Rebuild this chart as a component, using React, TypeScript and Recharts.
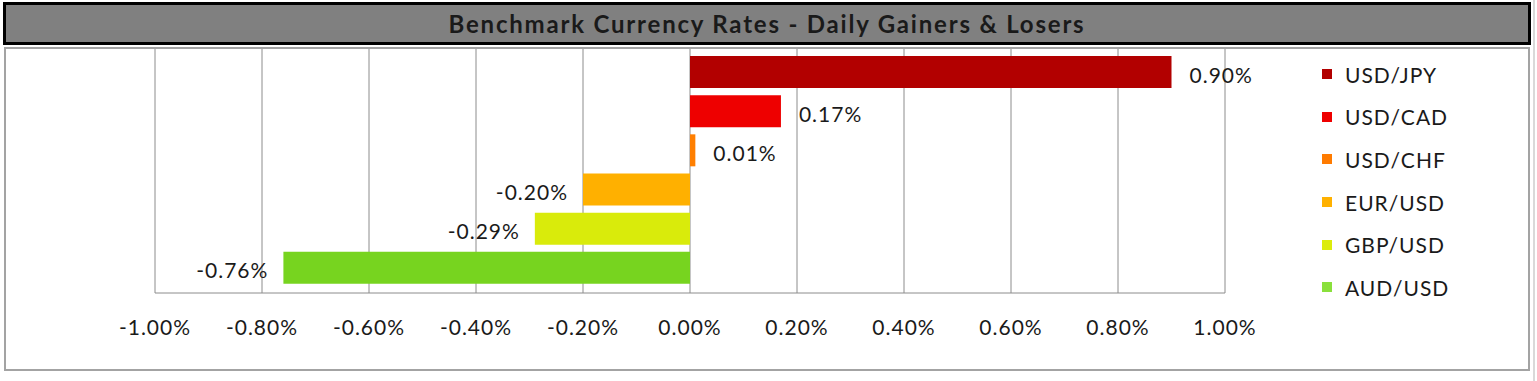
import { BarChart, Bar, XAxis, YAxis, CartesianGrid, Cell, LabelList, Legend } from "recharts"

const pairs = ["USD/JPY", "USD/CAD", "USD/CHF", "EUR/USD", "GBP/USD", "AUD/USD"]
const changes = [0.9, 0.17, 0.01, -0.2, -0.29, -0.76]
const barColors = ["#b20000", "#ee0000", "#ff7f00", "#ffb000", "#d9eb0b", "#77d41f"]
const legendColors = ["#b20000", "#ee0000", "#ff7b00", "#ffb100", "#dcec0c", "#8ae03c"]
const xTicks = [-1, -0.8, -0.6, -0.4, -0.2, 0, 0.2, 0.4, 0.6, 0.8, 1]

const data = pairs.map((pair, i) => ({ pair, change: changes[i] }))

const FONT = "Lato, 'Open Sans', sans-serif"
const TEXT = "#1a1a1a"

function renderValueLabel(props: any) {
  const { x, y, width, height, value } = props
  const a = Number(x)
  const b = Number(x) + Number(width)
  const cy = Number(y) + Number(height) / 2 + 2
  const text = `${Number(value).toFixed(2)}%`
  if (value >= 0) {
    return (
      <text x={Math.max(a, b) + 18} y={cy} textAnchor="start" dominantBaseline="central" fill={TEXT} fontSize={21}>
        {text}
      </text>
    )
  }
  return (
    <text x={Math.min(a, b) - 15} y={cy} textAnchor="end" dominantBaseline="central" fill={TEXT} fontSize={21}>
      {text}
    </text>
  )
}

function renderLegend() {
  return (
    <div>
      {pairs.map((p, i) => (
        <div key={p} style={{ display: "flex", alignItems: "center", height: 42.6 }}>
          <span style={{ width: 10, height: 10, background: legendColors[i], marginRight: 13, flex: "none" }} />
          <span style={{ fontSize: 21, color: TEXT, lineHeight: 1 }}>{p}</span>
        </div>
      ))}
    </div>
  )
}

export default function App() {
  return (
    <div style={{ position: "absolute", left: 0, top: 0, width: 1537, height: 381, background: "#fff", fontFamily: FONT, letterSpacing: 1 }}>
      {/* chart frame */}
      <div style={{ position: "absolute", left: 4, top: 47, width: 1522, height: 320, border: "2px solid #a3a3a3" }} />
      <div style={{ position: "absolute", left: 1533, top: 0, width: 2, height: 381, background: "#d9d9d9" }} />
      <div style={{ position: "absolute", left: 0, top: 0 }}>
        <BarChart
          width={1537}
          height={381}
          layout="vertical"
          data={data}
          margin={{ top: 49, right: 312, left: 155, bottom: 58 }}
        >
          <CartesianGrid horizontal={false} stroke="#8c8c8c" />
          <XAxis
            type="number"
            domain={[-1, 1]}
            ticks={xTicks}
            interval={0}
            tickFormatter={(v: number) => `${v.toFixed(2)}%`}
            tickLine={false}
            tickSize={0}
            tickMargin={27}
            axisLine={{ stroke: "#8c8c8c" }}
            tick={{ fill: TEXT, fontSize: 21 }}
            height={30}
          />
          <YAxis type="category" dataKey="pair" hide padding={{ top: 3, bottom: 6 }} />
          <Legend
            layout="vertical"
            align="center"
            verticalAlign="middle"
            wrapperStyle={{ left: 1322, top: 53, width: 190 }}
            content={renderLegend}
          />
          <Bar dataKey="change" barSize={32} isAnimationActive={false}>
            {data.map((d, i) => (
              <Cell key={d.pair} fill={barColors[i]} />
            ))}
            <LabelList dataKey="change" content={renderValueLabel} />
          </Bar>
        </BarChart>
      </div>
      {/* title bar */}
      <div
        style={{
          position: "absolute",
          left: 3,
          top: 2,
          width: 1522,
          height: 37,
          background: "#808080",
          border: "3px solid #000",
          display: "flex",
          alignItems: "center",
          justifyContent: "center",
          fontWeight: 700,
          fontSize: 24,
          color: TEXT,
          letterSpacing: 1.8,
        }}
      >
        Benchmark Currency Rates - Daily Gainers &amp; Losers
      </div>
    </div>
  )
}
